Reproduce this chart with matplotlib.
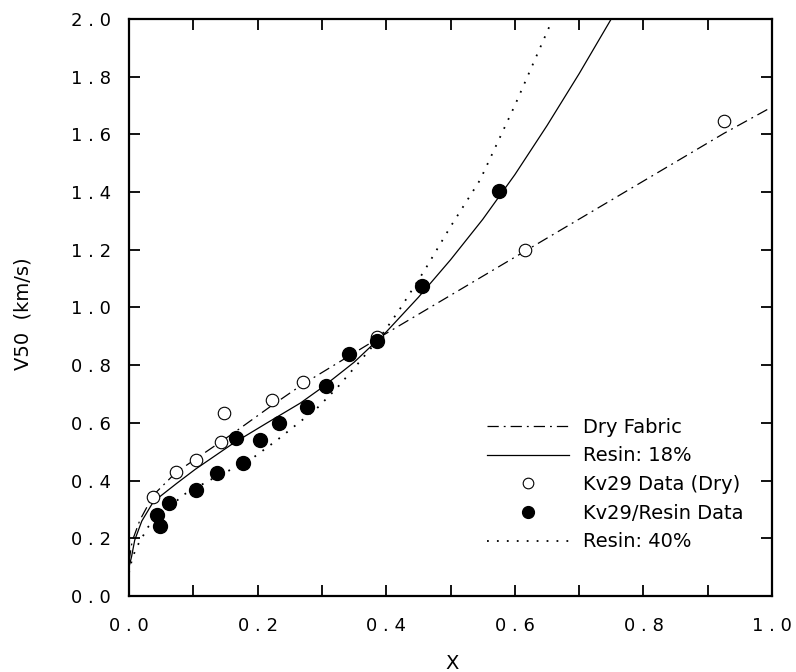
import numpy as np
import matplotlib
matplotlib.use("Agg")
import matplotlib.pyplot as plt

# ── Data ─────────────────────────────────────────────────────────────────────
# Kv29 open circles (dry fabric)
dry_x = [0.038, 0.073, 0.104, 0.143, 0.148, 0.222, 0.271, 0.386, 0.615, 0.925]
dry_y = [0.342, 0.430, 0.471, 0.534, 0.634, 0.679, 0.741, 0.899, 1.199, 1.647]

# Kv29/Resin filled circles
resin_x = [0.043, 0.048, 0.063, 0.104, 0.137, 0.167, 0.178, 0.203, 0.234,
           0.277, 0.307, 0.342, 0.385, 0.456, 0.575]
resin_y = [0.281, 0.242, 0.321, 0.367, 0.427, 0.547, 0.460, 0.541, 0.598,
           0.654, 0.729, 0.838, 0.885, 1.075, 1.403]

# Model curves (traced)
fab_x = [0.0, 0.005, 0.017, 0.038, 0.073, 0.105, 0.162, 0.222, 0.271, 0.33,
         0.40, 0.50, 0.615, 0.75, 0.925, 1.0]
fab_y = [0.12, 0.19, 0.263, 0.350, 0.428, 0.477, 0.564, 0.660, 0.735, 0.815,
         0.910, 1.042, 1.194, 1.372, 1.603, 1.695]

r18_x = [0.0, 0.004, 0.009, 0.020, 0.038, 0.074, 0.103, 0.162, 0.214, 0.266,
         0.30, 0.35, 0.40, 0.45, 0.50, 0.55, 0.60, 0.65, 0.70, 0.75]
r18_y = [0.10, 0.136, 0.194, 0.260, 0.327, 0.390, 0.439, 0.529, 0.599, 0.668,
         0.722, 0.810, 0.915, 1.035, 1.165, 1.305, 1.460, 1.630, 1.810, 2.0]

r40_x = [0.0, 0.005, 0.012, 0.030, 0.056, 0.084, 0.126, 0.188, 0.230, 0.292,
         0.323, 0.354, 0.39, 0.42, 0.46, 0.50, 0.546, 0.60, 0.657]
r40_y = [0.08, 0.13, 0.17, 0.240, 0.292, 0.350, 0.402, 0.471, 0.540, 0.650,
         0.720, 0.800, 0.895, 0.990, 1.130, 1.280, 1.442, 1.700, 1.99]

x_ticks = [0.0, 0.2, 0.4, 0.6, 0.8, 1.0]
y_ticks = [0.0, 0.2, 0.4, 0.6, 0.8, 1.0, 1.2, 1.4, 1.6, 1.8, 2.0]


def spaced(v):
    # the old plotting package puts gaps between characters
    return " ".join(f"{v:.1f}")


fig = plt.figure(figsize=(7.96, 6.72), dpi=100)
ax = fig.add_axes([0.162, 0.113, 0.808, 0.859])

ax.plot(fab_x, fab_y, color="black", lw=0.9, dashes=(9, 4, 1.5, 4),
        label="Dry Fabric")
ax.plot(r18_x, r18_y, color="black", lw=0.9, label="Resin: 18%")
ax.plot(dry_x, dry_y, "o", ms=9, mfc="white", mec="black", mew=0.8,
        label="Kv29 Data (Dry)")
ax.plot(resin_x, resin_y, "o", ms=10, mfc="black", mec="black",
        label="Kv29/Resin Data")
ax.plot(r40_x, r40_y, color="black", lw=1.3, dashes=(1, 4.5),
        label="Resin: 40%")

ax.set_xlim(0, 1.0)
ax.set_ylim(0, 2.0)
ax.set_xticks(x_ticks)
ax.set_xticklabels([spaced(v) for v in x_ticks])
ax.set_xticks(np.arange(0.1, 1.0, 0.2), minor=True)
ax.set_yticks(y_ticks)
ax.set_yticklabels([spaced(v) for v in y_ticks])

ax.tick_params(which="both", direction="in", top=True, right=True,
               width=1.3, length=8, labelsize=13)
ax.tick_params(axis="x", pad=15)
ax.tick_params(axis="y", pad=13)
for s in ax.spines.values():
    s.set_linewidth(1.6)

ax.set_xlabel("X", fontsize=14)
ax.set_ylabel("V50  (km/s)", fontsize=14)
ax.xaxis.set_label_coords(0.502, -0.1)
ax.yaxis.set_label_coords(-0.15, 0.49)

ax.legend(loc="upper left", bbox_to_anchor=(0.542, 0.326), frameon=False,
          fontsize=14, handlelength=4.2, handletextpad=0.7,
          labelspacing=0.5, borderpad=0, markerscale=0.85)

fig.savefig("out.png", dpi=100)
